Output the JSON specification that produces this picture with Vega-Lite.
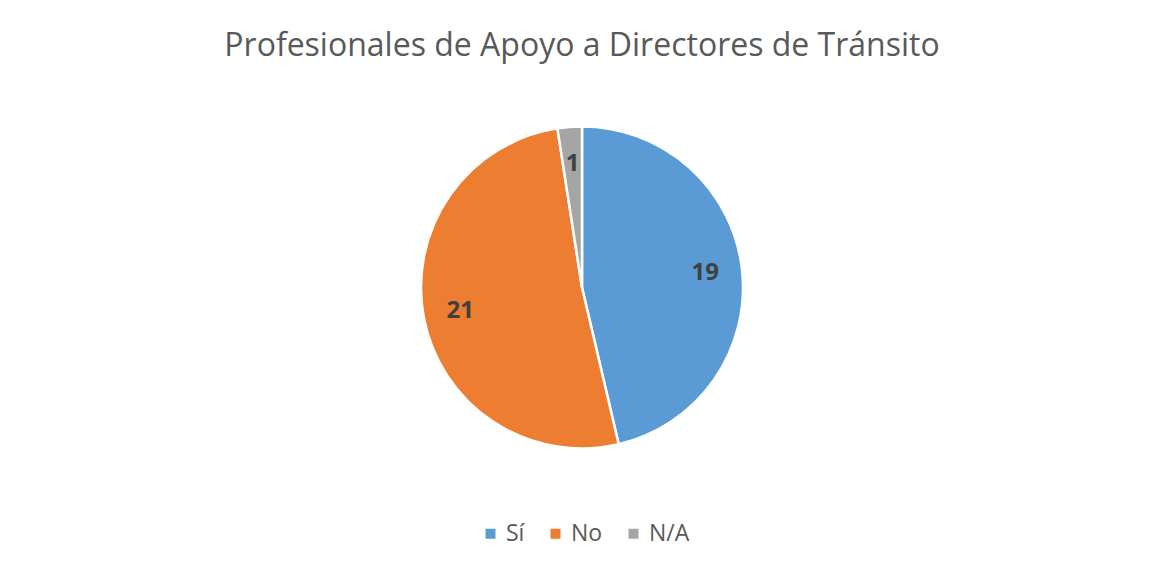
{
  "$schema": "https://vega.github.io/schema/vega-lite/v6.json",
  "width": 1164,
  "height": 575,
  "autosize": "none",
  "padding": 0,
  "background": "white",
  "title": {
    "text": "Profesionales de Apoyo a Directores de Tránsito",
    "orient": "top",
    "anchor": "middle",
    "offset": -63,
    "fontSize": 32,
    "font": "Open Sans",
    "fontWeight": "normal",
    "color": "#595959"
  },
  "data": {
    "values": [
      {"respuesta": "Sí", "valor": 19, "orden": 1},
      {"respuesta": "No", "valor": 21, "orden": 2},
      {"respuesta": "N/A", "valor": 1, "orden": 3}
    ]
  },
  "encoding": {
    "theta": {"field": "valor", "type": "quantitative", "stack": true},
    "order": {"field": "orden", "type": "quantitative"},
    "color": {
      "field": "respuesta",
      "type": "nominal",
      "scale": {"domain": ["Sí", "No", "N/A"], "range": ["#5B9BD5", "#ED7D31", "#A5A5A5"]},
      "legend": {
        "orient": "none",
        "legendX": 479,
        "legendY": 522,
        "direction": "horizontal",
        "title": null,
        "symbolType": "square",
        "symbolSize": 100,
        "symbolStrokeWidth": 0,
        "labelFontSize": 23,
        "labelFont": "Open Sans",
        "labelColor": "#595959",
        "columnPadding": 19,
        "symbolOffset": 0
      }
    }
  },
  "layer": [
    {
      "mark": {"type": "arc", "outerRadius": 161, "stroke": "white", "strokeWidth": 2.5}
    },
    {
      "mark": {"type": "text", "radius": 124, "fontSize": 24, "fontWeight": "bold", "font": "Open Sans", "fill": "#404040"},
      "encoding": {
        "text": {"field": "valor", "type": "quantitative"},
        "color": {"value": "#404040"}
      }
    }
  ]
}
